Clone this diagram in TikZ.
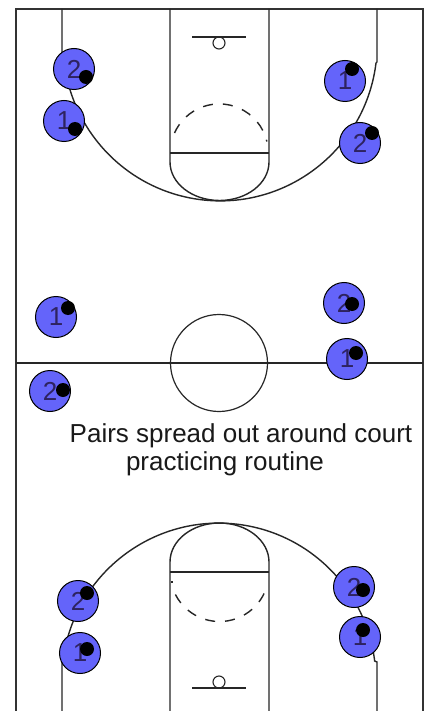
\documentclass[tikz,border=0pt]{standalone}
\usepackage{fontspec}
\setmainfont{Liberation Sans}
\definecolor{playerblue}{HTML}{6464FA}
\definecolor{digitink}{HTML}{2E2360}
\tikzset{
  courtline/.style={line width=1.4pt,black!85},
  borderline/.style={line width=1.7pt,black!80},
  dashline/.style={line width=1.4pt,black!85,dash pattern=on 10pt off 10pt},
  player/.style={circle,draw=black,line width=1pt,fill=playerblue,minimum size=41pt,inner sep=0pt,
     text=digitink,font=\fontsize{26}{26}\selectfont},
  ballmark/.style={circle,fill=black,minimum size=14pt,inner sep=0pt},
  caption/.style={font=\fontsize{26}{28}\selectfont,text=black!90,anchor=base,inner sep=0pt}
}
\begin{document}
\begin{tikzpicture}[x=1pt,y=-1pt]
\useasboundingbox[fill=white] (0,0) rectangle (425,711);
% outer lines
\draw[borderline] (16,711) -- (16,9) -- (424,9);
\draw[borderline] (423,9) -- (423,711);
\draw[courtline] (16,363) -- (423,363);
% centre circle
\node[circle,draw=black!85,line width=1.2pt,minimum size=97pt,inner sep=0pt] (centre) at (219,363) {};
% top half: lane, free-throw line, key, hoop, three-point line
\draw[courtline] (170,9) -- (170,162) arc[start angle=180,end angle=0,x radius=49.5,y radius=38.5] -- (269,9);
\draw[courtline] (170,153) -- (269,153);
\draw[dashline] (174.5,133) arc[start angle=204,end angle=346.5,radius=49];
\draw[courtline] (192,37) -- (246,37);
\node[circle,draw=black!85,line width=1.1pt,minimum size=12pt,inner sep=0pt] (hooptop) at (219,43) {};
\draw[courtline] (377,9) -- (377,62) -- (376,63) arc[start angle=7,end angle=173,radius=157] -- (62,62) -- (62,9);
% bottom half
\draw[courtline] (170,711) -- (170,562) arc[start angle=180,end angle=360,x radius=49.5,y radius=39] -- (269,711);
\draw[courtline] (170,572) -- (269,572);
\draw[dashline] (175.4,594.5) arc[start angle=153,end angle=25,radius=49.5];
\draw[courtline] (171,582) -- (172.5,582);
\draw[courtline] (192,688) -- (246,688);
\node[circle,draw=black!85,line width=1.1pt,minimum size=12pt,inner sep=0pt] (hoopbot) at (219,682) {};
\draw[courtline] (62,711) -- (62,662) -- (63,661) arc[start angle=187,end angle=353,radius=157] -- (377,662) -- (377,711);
% players and balls
\node[player] (pa) at (74,69) {2};   \node[ballmark] (ba) at (86,77) {};
\node[player] (pb) at (64,121) {1};  \node[ballmark] (bb) at (75,129) {};
\node[player] (pc) at (345,81) {1};  \node[ballmark] (bc) at (352,69) {};
\node[player] (pd) at (360,143) {2}; \node[ballmark] (bd) at (372,133) {};
\node[player] (pe) at (56,317) {1};  \node[ballmark] (be) at (68,308) {};
\node[player] (pf) at (344,303) {2}; \node[ballmark] (bf) at (352,304) {};
\node[player] (pg) at (347,359) {1}; \node[ballmark] (bg) at (356,353) {};
\node[player] (ph) at (50,391) {2};  \node[ballmark] (bh) at (63,390) {};
\node[player] (pi) at (78,601) {2};  \node[ballmark] (bi) at (87,593) {};
\node[player] (pj) at (80,653) {1};  \node[ballmark] (bj) at (87,649) {};
\node[player] (pk) at (354,587) {2}; \node[ballmark] (bk) at (363,590) {};
\node[player] (pl) at (360,637) {1}; \node[ballmark] (bl) at (363,630) {};
% caption
\node[caption] (capa) at (241,442) {Pairs spread out around court};
\node[caption] (capb) at (225,470) {practicing routine};
\end{tikzpicture}
\end{document}
